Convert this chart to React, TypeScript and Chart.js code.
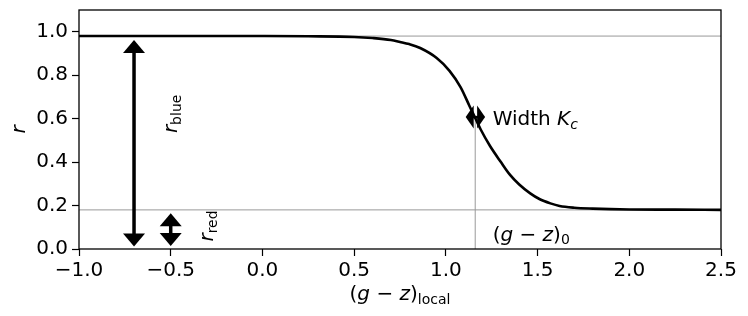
import React, { useEffect, useRef } from "react";
import { Chart, registerables } from "chart.js";

Chart.register(...registerables);

// ---- data ----
const CURVE_X = [-1.0, -0.5, 0.0, 0.25, 0.5, 0.6, 0.7, 0.75, 0.8, 0.86, 0.95, 1.02, 1.08, 1.13, 1.16, 1.19, 1.24, 1.3, 1.35, 1.4, 1.46, 1.51, 1.57, 1.62, 1.7, 1.8, 2.0, 2.25, 2.5];
const CURVE_Y = [0.98, 0.98, 0.98, 0.979, 0.976, 0.971, 0.962, 0.953, 0.943, 0.925, 0.879, 0.82, 0.745, 0.656, 0.603, 0.55, 0.475, 0.4, 0.341, 0.297, 0.256, 0.23, 0.21, 0.198, 0.19, 0.186, 0.182, 0.181, 0.18];

const X_TICKS = [-1.0, -0.5, 0.0, 0.5, 1.0, 1.5, 2.0, 2.5];
const X_TICK_LABELS = ["\u22121.0", "\u22120.5", "0.0", "0.5", "1.0", "1.5", "2.0", "2.5"];
const Y_TICKS = [0.0, 0.2, 0.4, 0.6, 0.8, 1.0];
const Y_TICK_LABELS = ["0.0", "0.2", "0.4", "0.6", "0.8", "1.0"];
const X_MIN = -1.0;
const X_MAX = 2.5;
const Y_MIN = 0.0;
const Y_MAX = 1.1;

const R_TOP = 0.98; // r_red + r_blue
const R_BOTTOM = 0.18; // r_red
const X0 = 1.16; // (g-z)_0
const X0_LINE_TOP = 0.6;

// annotation arrows (data space)
const ARROW_BLUE = { x: -0.7, y1: 0.962, y2: 0.012 };
const ARROW_RED = { x: -0.5, y1: 0.164, y2: 0.014 };
const ARROW_WIDTH = { y: 0.607, x1: 1.108, x2: 1.214 };

// annotation text anchors (data space)
const R_BLUE_LABEL = { x: -0.466, y: 0.622 };
const R_RED_LABEL = { x: -0.27, y: 0.106 };
const WIDTH_LABEL = { x: 1.255, y: 0.571 };
const X0_LABEL = { x: 1.255, y: 0.038 };

const FAM = '"DejaVu Sans", "Noto Sans", sans-serif';
const f = (size: number, italic = false) => `${italic ? "italic " : ""}${size}px ${FAM}`;

type Seg = { t: string; font: string; dy?: number };

function drawRich(ctx: CanvasRenderingContext2D, segs: Seg[], x: number, y: number, rot: number, align: "left" | "center") {
  ctx.save();
  ctx.translate(x, y);
  ctx.rotate(rot);
  ctx.textBaseline = "alphabetic";
  ctx.textAlign = "left";
  ctx.fillStyle = "#000";
  const widths = segs.map((s) => {
    ctx.font = s.font;
    return ctx.measureText(s.t).width;
  });
  const total = widths.reduce((a, b) => a + b, 0);
  let cx = align === "center" ? -total / 2 : 0;
  segs.forEach((s, i) => {
    ctx.font = s.font;
    ctx.fillText(s.t, cx, s.dy || 0);
    cx += widths[i];
  });
  ctx.restore();
}

function vArrow(ctx: CanvasRenderingContext2D, x: number, yTop: number, yBot: number, hw: number, hl: number, sw: number) {
  ctx.fillRect(x - sw / 2, yTop + hl - 1, sw, yBot - yTop - 2 * hl + 2);
  ctx.beginPath();
  ctx.moveTo(x, yTop);
  ctx.lineTo(x - hw / 2, yTop + hl);
  ctx.lineTo(x + hw / 2, yTop + hl);
  ctx.closePath();
  ctx.fill();
  ctx.beginPath();
  ctx.moveTo(x, yBot);
  ctx.lineTo(x - hw / 2, yBot - hl);
  ctx.lineTo(x + hw / 2, yBot - hl);
  ctx.closePath();
  ctx.fill();
}

function hArrow(ctx: CanvasRenderingContext2D, y: number, xL: number, xR: number, hh: number, hl: number, sw: number) {
  ctx.fillRect(xL + hl - 1, y - sw / 2, xR - xL - 2 * hl + 2, sw);
  ctx.beginPath();
  ctx.moveTo(xL, y);
  ctx.lineTo(xL + hl, y - hh / 2);
  ctx.lineTo(xL + hl, y + hh / 2);
  ctx.closePath();
  ctx.fill();
  ctx.beginPath();
  ctx.moveTo(xR, y);
  ctx.lineTo(xR - hl, y - hh / 2);
  ctx.lineTo(xR - hl, y + hh / 2);
  ctx.closePath();
  ctx.fill();
}

const annotPlugin = {
  id: "annot",
  afterDatasetsDraw(chart: any) {
    const { ctx, chartArea: ca, scales } = chart;
    const xs = scales.x;
    const ys = scales.y;
    const px = (v: number) => xs.getPixelForValue(v);
    const py = (v: number) => ys.getPixelForValue(v);
    ctx.save();
    // frame (spines)
    ctx.strokeStyle = "#000";
    ctx.lineWidth = 1.3;
    ctx.strokeRect(ca.left, ca.top, ca.right - ca.left, ca.bottom - ca.top);

    ctx.fillStyle = "#000";
    vArrow(ctx, px(ARROW_BLUE.x), py(ARROW_BLUE.y1), py(ARROW_BLUE.y2), 22, 13, 3.5);
    vArrow(ctx, px(ARROW_RED.x), py(ARROW_RED.y1), py(ARROW_RED.y2), 22, 13, 3.5);
    hArrow(ctx, py(ARROW_WIDTH.y), px(ARROW_WIDTH.x1), px(ARROW_WIDTH.x2), 23, 8, 2.5);

    // texts
    drawRich(ctx, [{ t: "r", font: f(20, true) }, { t: "blue", font: f(14), dy: 4 }], px(R_BLUE_LABEL.x), py(R_BLUE_LABEL.y), -Math.PI / 2, "center");
    drawRich(ctx, [{ t: "r", font: f(20, true) }, { t: "red", font: f(14), dy: 4 }], px(R_RED_LABEL.x), py(R_RED_LABEL.y), -Math.PI / 2, "center");
    drawRich(ctx, [{ t: "Width ", font: f(20) }, { t: "K", font: f(20, true) }, { t: "c", font: f(14, true), dy: 4 }], px(WIDTH_LABEL.x), py(WIDTH_LABEL.y), 0, "left");
    drawRich(
      ctx,
      [
        { t: "(", font: f(20) },
        { t: "g", font: f(20, true) },
        { t: " \u2212 ", font: f(20) },
        { t: "z", font: f(20, true) },
        { t: ")", font: f(20) },
        { t: "0", font: f(14), dy: 3 },
      ],
      px(X0_LABEL.x),
      py(X0_LABEL.y),
      0,
      "left"
    );

    // axis titles
    drawRich(
      ctx,
      [
        { t: "(", font: f(20) },
        { t: "g", font: f(20, true) },
        { t: " \u2212 ", font: f(20) },
        { t: "z", font: f(20, true) },
        { t: ")", font: f(20) },
        { t: "local", font: f(14), dy: 4 },
      ],
      (ca.left + ca.right) / 2,
      ca.bottom + 51,
      0,
      "center"
    );
    drawRich(ctx, [{ t: "r", font: f(20, true) }], ca.left - 54, (ca.top + ca.bottom) / 2, -Math.PI / 2, "center");
    ctx.restore();
  },
};

export default function App() {
  const ref = useRef<HTMLCanvasElement | null>(null);
  useEffect(() => {
    if (!ref.current) return;
    const curve = CURVE_X.map((x, i) => ({ x, y: CURVE_Y[i] }));
    const chart = new Chart(ref.current, {
      type: "scatter",
      data: {
        datasets: [
          {
            data: curve,
            showLine: true,
            borderColor: "#000",
            borderWidth: 2.6,
            pointRadius: 0,
            cubicInterpolationMode: "monotone",
            fill: false,
          } as any,
          {
            data: [{ x: X_MIN, y: R_TOP }, { x: X_MAX, y: R_TOP }],
            showLine: true,
            borderColor: "#999",
            borderWidth: 1,
            pointRadius: 0,
          },
          {
            data: [{ x: X_MIN, y: R_BOTTOM }, { x: X_MAX, y: R_BOTTOM }],
            showLine: true,
            borderColor: "#999",
            borderWidth: 1,
            pointRadius: 0,
          },
          {
            data: [{ x: X0, y: Y_MIN }, { x: X0, y: X0_LINE_TOP }],
            showLine: true,
            borderColor: "#999",
            borderWidth: 1,
            pointRadius: 0,
          },
        ],
      },
      options: {
        animation: false,
        responsive: true,
        maintainAspectRatio: false,
        devicePixelRatio: 1,
        layout: { padding: { top: 10, right: 27, left: 0, bottom: 0 } },
        plugins: { legend: { display: false }, tooltip: { enabled: false } },
        scales: {
          x: {
            type: "linear",
            min: X_MIN,
            max: X_MAX,
            border: { display: false },
            grid: { drawOnChartArea: false, drawTicks: true, tickLength: 7, tickColor: "#000", tickWidth: 1.2 },
            ticks: {
              autoSkip: false,
              maxRotation: 0,
              padding: 3,
              color: "#000",
              font: { family: FAM, size: 20 },
              callback: (_v: any, i: number) => X_TICK_LABELS[i],
            },
            afterBuildTicks: (s: any) => {
              s.ticks = X_TICKS.map((value) => ({ value }));
            },
            afterFit: (s: any) => {
              s.height = 67;
              s.paddingLeft = 0;
              s.paddingRight = 0;
            },
          },
          y: {
            type: "linear",
            min: Y_MIN,
            max: Y_MAX,
            border: { display: false },
            grid: { drawOnChartArea: false, drawTicks: true, tickLength: 7, tickColor: "#000", tickWidth: 1.2 },
            ticks: {
              padding: 4,
              color: "#000",
              font: { family: FAM, size: 20 },
              callback: (_v: any, i: number) => Y_TICK_LABELS[i],
            },
            afterBuildTicks: (s: any) => {
              s.ticks = Y_TICKS.map((value) => ({ value }));
            },
            afterFit: (s: any) => {
              s.width = 79;
              s.paddingTop = 0;
              s.paddingBottom = 0;
            },
          },
        },
      },
      plugins: [annotPlugin],
    });
    return () => chart.destroy();
  }, []);
  return (
    <div style={{ position: "absolute", left: 0, top: 0, width: 748, height: 316, background: "#fff" }}>
      <canvas ref={ref} />
    </div>
  );
}
